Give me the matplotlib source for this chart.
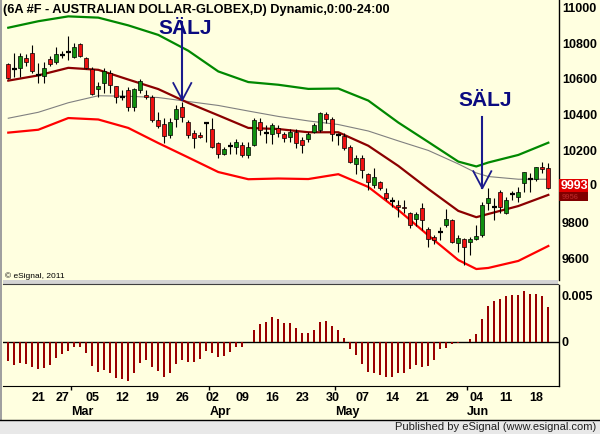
import matplotlib
matplotlib.use("Agg")
import matplotlib.pyplot as plt
from matplotlib.patches import Rectangle
from matplotlib.lines import Line2D
from matplotlib.transforms import blended_transform_factory

plt.rcParams['font.family'] = ['Liberation Sans', 'DejaVu Sans']

W, H = 600, 434
BG = '#ffffe0'

# daily candles, AUD futures x10000
opens = [10683, 10654, 10660, 10715, 10743, 10622, 10617, 10710, 10693, 10733,
         10748, 10721, 10793, 10715, 10654, 10543, 10576, 10635, 10561, 10502,
         10539, 10443, 10539, 10511, 10502, 10372, 10348, 10289, 10376, 10446,
         10363, 10298, 10289, 10357, 10321, 10243, 10183, 10230, 10221, 10233,
         10178, 10233, 10359, 10298, 10294, 10326, 10294, 10276, 10307, 10261,
         10265, 10307, 10317, 10406, 10376, 10289, 10283, 10221, 10128, 10159,
         10071, 10011, 10026, 9965, 9922, 9900, 9891, 9854, 9821, 9882,
         9765, 9724, 9752, 9787, 9817, 9691, 9709, 9693, 9709, 9733,
         9913, 9891, 9974, 9857, 9961, 9943, 10021, 10043, 10043, 10109, 10104]
highs = [10689, 10746, 10743, 10739, 10791, 10687, 10696, 10728, 10780, 10757,
         10839, 10798, 10802, 10724, 10665, 10585, 10660, 10650, 10563, 10539,
         10557, 10548, 10600, 10539, 10511, 10418, 10382, 10385, 10456, 10474,
         10372, 10317, 10307, 10363, 10385, 10252, 10224, 10252, 10265, 10252,
         10252, 10382, 10382, 10344, 10354, 10344, 10307, 10321, 10321, 10276,
         10307, 10354, 10418, 10418, 10387, 10298, 10298, 10233, 10178, 10178,
         10076, 10104, 10035, 9993, 9946, 9928, 9928, 9863, 9863, 9909,
         9776, 9733, 9779, 9876, 9821, 9733, 9715, 9721, 9789, 9918,
         9993, 9937, 9983, 9943, 9979, 10002, 10085, 10076, 10113, 10141, 10132]
lows = [10600, 10613, 10613, 10672, 10635, 10580, 10576, 10672, 10682, 10715,
        10706, 10715, 10724, 10654, 10511, 10502, 10524, 10524, 10468, 10483,
        10424, 10424, 10521, 10489, 10363, 10326, 10243, 10271, 10335, 10363,
        10271, 10218, 10271, 10252, 10218, 10163, 10178, 10183, 10183, 10168,
        10159, 10229, 10289, 10243, 10237, 10279, 10252, 10252, 10215, 10187,
        10252, 10298, 10307, 10357, 10257, 10233, 10206, 10132, 10072, 10048,
        9983, 9993, 9983, 9928, 9887, 9835, 9857, 9771, 9783, 9761,
        9665, 9683, 9706, 9776, 9687, 9641, 9567, 9622, 9706, 9721,
        9872, 9817, 9857, 9850, 9928, 9918, 9974, 9974, 10035, 10076, 9988]
closes = [10606, 10654, 10728, 10693, 10646, 10622, 10660, 10682, 10737, 10733,
          10748, 10776, 10728, 10663, 10517, 10561, 10646, 10567, 10502, 10502,
          10443, 10543, 10589, 10498, 10372, 10341, 10283, 10363, 10432, 10391,
          10289, 10271, 10276, 10357, 10224, 10183, 10211, 10230, 10248, 10178,
          10224, 10372, 10317, 10298, 10344, 10298, 10271, 10304, 10246, 10233,
          10294, 10344, 10413, 10376, 10293, 10289, 10215, 10141, 10159, 10094,
          10026, 10057, 9993, 9937, 9922, 9887, 9882, 9789, 9850, 9817,
          9709, 9706, 9752, 9821, 9696, 9718, 9668, 9711, 9728, 9900,
          9937, 9891, 9891, 9928, 9961, 9974, 10082, 10043, 10109, 10098, 9993]

# band lines read every few bars
line_x = [0, 5, 10, 15, 20, 25, 30, 35, 40, 45, 50, 55, 60, 65, 70, 75, 78, 80, 85, 90]
upper = [10885, 10921, 10948, 10941, 10898, 10845, 10757, 10642, 10583, 10568,
         10545, 10547, 10480, 10358, 10250, 10141, 10114, 10136, 10178, 10246]
mid = [10591, 10620, 10662, 10651, 10597, 10544, 10467, 10398, 10328, 10322,
       10304, 10304, 10229, 10117, 9989, 9867, 9832, 9850, 9894, 9956]
slow = [10382, 10415, 10468, 10507, 10504, 10497, 10475, 10453, 10422, 10392,
        10367, 10347, 10311, 10256, 10203, 10128, 10078, 10058, 10043, 10043]
lower = [10302, 10318, 10383, 10375, 10328, 10244, 10164, 10083, 10043, 10047,
         10044, 10071, 10000, 9872, 9731, 9594, 9544, 9550, 9589, 9672]

# oscillator histogram
hist = [-0.00199, -0.00245, -0.00220, -0.00234, -0.00263, -0.00290, -0.00273, -0.00245,
        -0.00167, -0.00128, -0.00093, -0.00050, -0.00050, -0.00114, -0.00255, -0.00316,
        -0.00298, -0.00327, -0.00380, -0.00397, -0.00412, -0.00327, -0.00220, -0.00192,
        -0.00263, -0.00305, -0.00369, -0.00327, -0.00234, -0.00192, -0.00210, -0.00210,
        -0.00181, -0.00096, -0.00114, -0.00156, -0.00149, -0.00103, -0.00050, -0.00050,
        -0.00005, 0.00128, 0.00192, 0.00213, 0.00263, 0.00245, 0.00205, 0.00199, 0.00149,
        0.00093, 0.00099, 0.00128, 0.00216, 0.00227, 0.00170, 0.00128, 0.00043, -0.00074,
        -0.00138, -0.00234, -0.00316, -0.00327, -0.00351, -0.00369, -0.00369, -0.00333,
        -0.00333, -0.00290, -0.00245, -0.00263, -0.00255, -0.00192, -0.00078, -0.00061,
        -0.00021, -0.00007, -0.00003, 0.00032, 0.00085, 0.00245, 0.00383, 0.00436, 0.00458,
        0.00489, 0.00500, 0.00500, 0.00543, 0.00511, 0.00511, 0.00493, 0.00369]

day_pos = [5, 9, 14, 19, 24, 29, 34, 39, 44, 49, 54, 59, 64, 69, 74, 78, 83, 88]
day_labels = ['21', '27', '05', '12', '19', '26', '02', '09', '16', '23', '30',
              '07', '14', '21', '29', '04', '11', '18']
month_pos = [10.5, 33.5, 54.5, 76.5]
month_labels = ['Mar', 'Apr', 'May', 'Jun']

sell_bars = [29, 79]
sell_tips = [10483, 9993]
sell_text_y = [10878, 10478]

title = "(6A #F - AUSTRALIAN DOLLAR-GLOBEX,D) Dynamic,0:00-24:00"


def fx(px):
    return px / W


def fy(py):
    return 1 - py / H


fig = plt.figure(figsize=(6, 4.34), dpi=100, facecolor=BG)

ax = fig.add_axes([fx(3), fy(280), 556 / W, 280 / H])
ax2 = fig.add_axes([fx(3), fy(386), 556 / W, 101 / H])
for a in (ax, ax2):
    a.set_facecolor(BG)
    a.set_xlim(-0.88, 91.78)
    for s in a.spines.values():
        s.set_visible(False)
    a.spines['right'].set_visible(True)
    a.spines['right'].set_color('black')
    a.spines['right'].set_linewidth(1)
    a.yaxis.tick_right()
    a.tick_params(axis='y', length=0, pad=2, labelsize=9)

# price panel
ax.set_ylim(9483, 11039)
ax.set_xticks([])
ticks = list(range(9600, 11001, 200))
ax.set_yticks(ticks)
ax.set_yticklabels([str(t) for t in ticks], fontweight='bold')

ax.plot(line_x, upper, color='#008800', lw=1.6, zorder=2)
ax.plot(line_x, slow, color='#808080', lw=0.8, zorder=2)
ax.plot(line_x, mid, color='#8b0000', lw=1.6, zorder=2)
ax.plot(line_x, lower, color='#ff0000', lw=1.6, zorder=2)

for i in range(len(opens)):
    o, h, l, c = opens[i], highs[i], lows[i], closes[i]
    ax.vlines(i, l, h, color='black', lw=0.8, zorder=3)
    if o == c:
        ax.hlines(o, i - 0.4, i + 0.4, color='black', lw=1.6, zorder=4)
    else:
        col = '#109010' if c > o else '#ee1111'
        ax.add_patch(Rectangle((i - 0.36, min(o, c)), 0.72, abs(c - o),
                               facecolor=col, edgecolor='black', lw=0.5, zorder=4))

# sell arrows
px_price = (11039 - 9483) / 280.0
for b, tip, ty, top in zip(sell_bars, sell_tips, sell_text_y, [78, 71]):
    ax.plot([b, b], [tip, tip + top * px_price], color='#1a1a8c', lw=1.5, zorder=5)
    ax.plot([b - 1.5, b, b + 1.5], [tip + 17 * px_price, tip, tip + 17 * px_price],
            color='#1a1a8c', lw=1.3, zorder=5)
    ax.text(b + 0.4, ty, 'SÄLJ', color='#0a0a80', fontsize=15, fontweight='bold',
            ha='center', va='center', zorder=6)

# oscillator panel
ax2.set_ylim(-0.004681, 0.006064)
ax2.spines['bottom'].set_visible(True)
ax2.spines['bottom'].set_color('black')
ax2.bar(range(len(hist)), hist, width=0.34, color='#990000', zorder=3)
ax2.axhline(0, color='black', lw=1, zorder=2)
ax2.set_yticks([0, 0.005])
ax2.set_yticklabels(['0', '0.005'], fontweight='bold')
ax2.set_xticks(day_pos)
ax2.set_xticklabels(day_labels, fontweight='bold')
ax2.set_xticks(month_pos, minor=True)
ax2.tick_params(axis='x', which='major', length=0, pad=4, labelsize=9)
ax2.tick_params(axis='x', which='minor', length=3, width=1, direction='out')
tr = blended_transform_factory(ax2.transData, ax2.transAxes)
for mp, ml in zip(month_pos, month_labels):
    ax2.text(mp, -0.255, ml, transform=tr, ha='left', va='center',
             fontsize=9, fontweight='bold')

# price boxes on the right axis; the 10000 label stays mostly hidden behind them
ax.set_yticklabels([str(t) if t != 10000 else '' for t in ticks], fontweight='bold')
fig.add_artist(Rectangle((fx(559), fy(201)), 29 / W, 9 / H, transform=fig.transFigure,
                         facecolor='#800000', edgecolor='none', zorder=5))
fig.text(fx(562), fy(197.5), str(mid[-1]), color='#b02020', fontsize=5.5,
         fontweight='bold', va='center', zorder=6)
fig.add_artist(Rectangle((fx(559), fy(192)), 29 / W, 13 / H, transform=fig.transFigure,
                         facecolor='#e00000', edgecolor='none', zorder=7))
fig.text(fx(561), fy(185.5), str(closes[-1]), color='white', fontsize=9,
         fontweight='bold', va='center', zorder=8)
fig.text(fx(589), fy(185.5), '0', color='black', fontsize=9,
         fontweight='bold', va='center', zorder=8)

# frame pieces
fig.add_artist(Rectangle((fx(3), fy(284)), 555 / W, 4 / H, transform=fig.transFigure,
                         facecolor='#d4d4d4', edgecolor='none', zorder=3))
fig.add_artist(Line2D([fx(3), fx(558)], [fy(284), fy(284)], transform=fig.transFigure,
                      color='#404040', lw=0.8, zorder=4))
fig.add_artist(Rectangle((0, 0), 2 / W, 1, transform=fig.transFigure,
                         facecolor='#a0a0a0', edgecolor='none', zorder=3))
fig.add_artist(Rectangle((0, 0), 1, 14 / H, transform=fig.transFigure,
                         facecolor='#e8e8e8', edgecolor='none', zorder=3))
fig.add_artist(Line2D([0, 1], [fy(420), fy(420)], transform=fig.transFigure,
                      color='black', lw=1, zorder=4))

fig.text(fx(3), fy(10), title, fontsize=9.2, fontweight='bold', va='center', ha='left')
fig.text(fx(5), fy(276), '© eSignal, 2011', fontsize=6, va='center', ha='left')
fig.text(fx(596), fy(427), 'Published by eSignal (www.esignal.com)', fontsize=8,
         va='center', ha='right', color='#202020', zorder=5)

fig.savefig('out.png', dpi=100, facecolor=BG)
